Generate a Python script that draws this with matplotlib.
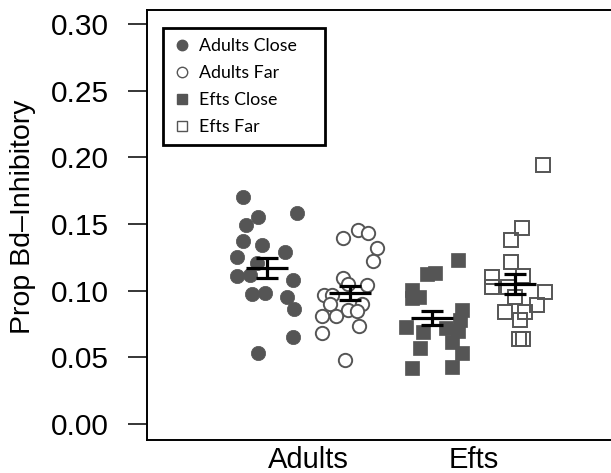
import numpy as np
import matplotlib
matplotlib.use("Agg")
import matplotlib.pyplot as plt
from matplotlib.lines import Line2D

plt.rcParams["font.family"] = ["Liberation Sans", "DejaVu Sans"]

# group positions on the x axis
pos_ac, pos_af, pos_ec, pos_ef = 1.0, 2.0, 3.0, 4.0

# Adults Close (filled circles)
ac_jit = [-0.29, 0.363, -0.109, -0.254, -0.29, -0.06, 0.218, -0.363, -0.121,
          -0.363, -0.206, 0.314, -0.181, -0.024, 0.242, 0.326, 0.314, -0.109]
ac_val = [0.170, 0.158, 0.155, 0.149, 0.137, 0.134, 0.129, 0.125, 0.121,
          0.111, 0.112, 0.108, 0.0975, 0.098, 0.095, 0.086, 0.065, 0.053]

# Adults Far (open circles)
af_jit = [-0.085, 0.097, 0.218, 0.326, 0.278, -0.085, -0.024, 0.206, -0.314, -0.218,
          -0.242, 0.145, -0.024, 0.085, -0.339, -0.169, 0.109, -0.339, -0.06]
af_val = [0.1395, 0.1455, 0.143, 0.132, 0.122, 0.1095, 0.105, 0.104, 0.097, 0.097,
          0.090, 0.090, 0.0855, 0.085, 0.081, 0.081, 0.0735, 0.068, 0.048]

# Efts Close (filled squares)
ec_jit = [0.314, -0.06, 0.036, -0.242, -0.157, -0.242, 0.363, 0.339, -0.314,
          -0.109, 0.314, 0.242, -0.145, 0.363, -0.242, 0.242, 0.169]
ec_val = [0.123, 0.1125, 0.113, 0.1005, 0.095, 0.0945, 0.0855, 0.078, 0.0728,
          0.069, 0.0698, 0.0615, 0.057, 0.053, 0.042, 0.0428, 0.072]

# Efts Far (open squares)
ef_jit = [0.339, 0.085, -0.048, -0.048, -0.278, -0.278, 0.097, 0.363, 0.0,
          0.266, -0.121, 0.121, 0.06, 0.048, 0.097, -0.085]
ef_val = [0.194, 0.147, 0.138, 0.1215, 0.110, 0.103, 0.111, 0.099, 0.095,
          0.089, 0.084, 0.084, 0.078, 0.064, 0.064, 0.103]

# means and standard errors
grp_pos = [pos_ac, pos_af, pos_ec, pos_ef]
grp_mean = [0.117, 0.098, 0.0795, 0.105]
grp_se = [0.0073, 0.0053, 0.0053, 0.0075]

xtick_pos = [1.5, 3.5]
xtick_lab = ["Adults", "Efts"]
yticks = [0.00, 0.05, 0.10, 0.15, 0.20, 0.25, 0.30]

gray = "#555555"

fig = plt.figure(figsize=(6.11, 4.73), dpi=100)
ax_w = 700
ax = fig.add_axes([147 / 611, 33 / 473, ax_w / 611, 430 / 473])

ax.plot(pos_ac + np.array(ac_jit), ac_val, "o", ms=10.3, mfc=gray, mec=gray, mew=0.5, ls="none")
ax.plot(pos_af + np.array(af_jit), af_val, "o", ms=9.6, mfc="white", mec=gray, mew=1.4, ls="none")
ax.plot(pos_ec + np.array(ec_jit), ec_val, "s", ms=9.4, mfc=gray, mec=gray, mew=0.5, ls="none")
ax.plot(pos_ef + np.array(ef_jit), ef_val, "s", ms=9.5, mfc="none", mec=gray, mew=1.4, ls="none")

for p, m, s in zip(grp_pos, grp_mean, grp_se):
    ax.hlines(m, p - 0.254, p + 0.254, color="black", lw=2.3)
    ax.hlines([m - s, m + s], p - 0.133, p + 0.133, color="black", lw=2.3)
    ax.vlines(p, m - s, m + s, color="black", lw=2.3)

# 82.7 px per group step, left edge at 120 px left of group 1
ax.set_xlim(1 - 120 / 82.7, 1 - 120 / 82.7 + ax_w / 82.7)
ax.set_ylim(-0.012, 0.3105)
ax.set_yticks(yticks)
ax.set_yticklabels([f"{v:.2f}" for v in yticks])
ax.set_xticks(xtick_pos)
ax.set_xticklabels(xtick_lab)
ax.tick_params(axis="y", length=13.7, width=1.1, pad=14, labelsize=21.5)
ax.tick_params(axis="x", length=0, pad=4, labelsize=21)
for sp in ax.spines.values():
    sp.set_linewidth(1.4)
ax.spines["right"].set_visible(False)
ax.set_ylabel("Prop Bd\u2013Inhibitory", fontsize=20.5)
ax.yaxis.set_label_coords(-111 / ax_w, (440 - 217) / 430)

handles = [
    Line2D([], [], marker="o", ls="none", ms=7.5, mfc=gray, mec=gray),
    Line2D([], [], marker="o", ls="none", ms=7.5, mfc="white", mec=gray, mew=1.0),
    Line2D([], [], marker="s", ls="none", ms=7.5, mfc=gray, mec=gray),
    Line2D([], [], marker="s", ls="none", ms=7.5, mfc="white", mec=gray, mew=1.0),
]
labels = ["Adults Close", "Adults Far", "Efts Close", "Efts Far"]
leg = ax.legend(handles, labels, loc="upper left",
                bbox_to_anchor=(163 / 611, 1 - 148 / 473, 162 / 611, 120 / 473),
                bbox_transform=fig.transFigure, mode="expand", borderaxespad=0,
                fancybox=False, framealpha=1, edgecolor="black",
                prop={"family": "Lato", "size": 12.8},
                handlelength=1.0, handletextpad=0.5, labelspacing=0.62, borderpad=0.55)
leg.get_frame().set_linewidth(2.0)

fig.savefig("out.png", dpi=100)
